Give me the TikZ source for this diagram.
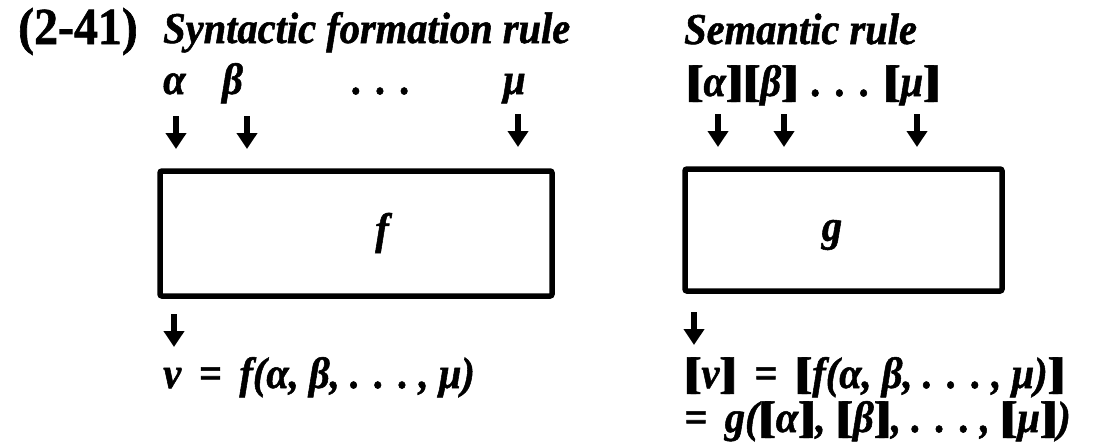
\documentclass[tikz,border=0pt]{standalone}
\usepackage{fontspec}
\setmainfont{Liberation Serif}[FakeStretch=0.92,
  BoldFeatures={FakeBold=1.2},BoldItalicFeatures={FakeBold=1.2}]
\usetikzlibrary{arrows.meta}
\newcommand\semb[1]{{\upshape[\kern-0.22em[}#1{\upshape]\kern-0.22em]}}
\newcommand\dts{.\hspace{0.32em}.\hspace{0.32em}.}
\newcommand\eqs{\hspace{0.4em}=\hspace{0.4em}}
\tikzset{
  %% function box
  fnbox/.style={rectangle,draw,line width=5.5pt,rounded corners=2pt,inner sep=0pt},
  %% bold italic text, placed on its baseline
  lbl/.style={anchor=base west,inner sep=0pt,
    font=\fontsize{44}{50}\selectfont\bfseries\itshape},
  %% short down arrows
  arr/.style={-{Triangle[width=20pt,length=16pt]},line width=5.5pt},
}
\begin{document}
\begin{tikzpicture}[x=1pt,y=-1pt]
  \useasboundingbox (0,0) rectangle (1106,447);
  %% headings
  \node[lbl,font=\fontsize{52}{56}\selectfont\bfseries] (num) at (18,44) {(2-41)};
  \node[lbl] (syn) at (163,43) {Syntactic formation rule};
  \node[lbl] (sem) at (684,44) {Semantic rule};
  %% syntactic side
  \node[lbl] (alpha) at (163,94) {α};
  \node[lbl] (beta) at (222,94) {β};
  \node[lbl] (dots) at (352,94) {\dts};
  \node[lbl] (mu) at (503,94) {μ};
  \node[fnbox,minimum width=392pt,minimum height=125pt] (fbx) at (356,233.5) {};
  \node[lbl,anchor=center] (f) at (382,233) {f};
  \node[lbl] (nu) at (163,388) {ν\eqs f(α, β, \dts\ , μ)};
  %% semantic side
  \node[lbl] (sargs) at (686,96) {\semb{α}\semb{β}\hspace{0.3em}\dts\hspace{0.3em}\semb{μ}};
  \node[fnbox,minimum width=317pt,minimum height=122pt] (gbx) at (843.5,230) {};
  \node[lbl,anchor=center] (g) at (832,235) {g};
  \node[lbl] (snu) at (684,388) {\semb{ν}\eqs\semb{f(α, β, \dts\ , μ)}};
  \node[lbl] (sres) at (684,432) {=\hspace{0.4em}g(\semb{α}, \semb{β}, \dts\ , \semb{μ})};
  %% arrows
  \foreach \x/\n/\t in {176/a/116,247/b/116,518/m/114,718/sa/114,784/sb/114,917/sm/114}{
    \coordinate (s\n) at (\x,\t);
    \coordinate (e\n) at (\x,\t+33);
    \draw[arr] (s\n) -- (e\n);
  }
  \coordinate (fo) at (174,314);
  \coordinate (fe) at (174,347);
  \draw[arr] (fo) -- (fe);
  \coordinate (go) at (694,312);
  \coordinate (ge) at (694,345);
  \draw[arr] (go) -- (ge);
\end{tikzpicture}
\end{document}
